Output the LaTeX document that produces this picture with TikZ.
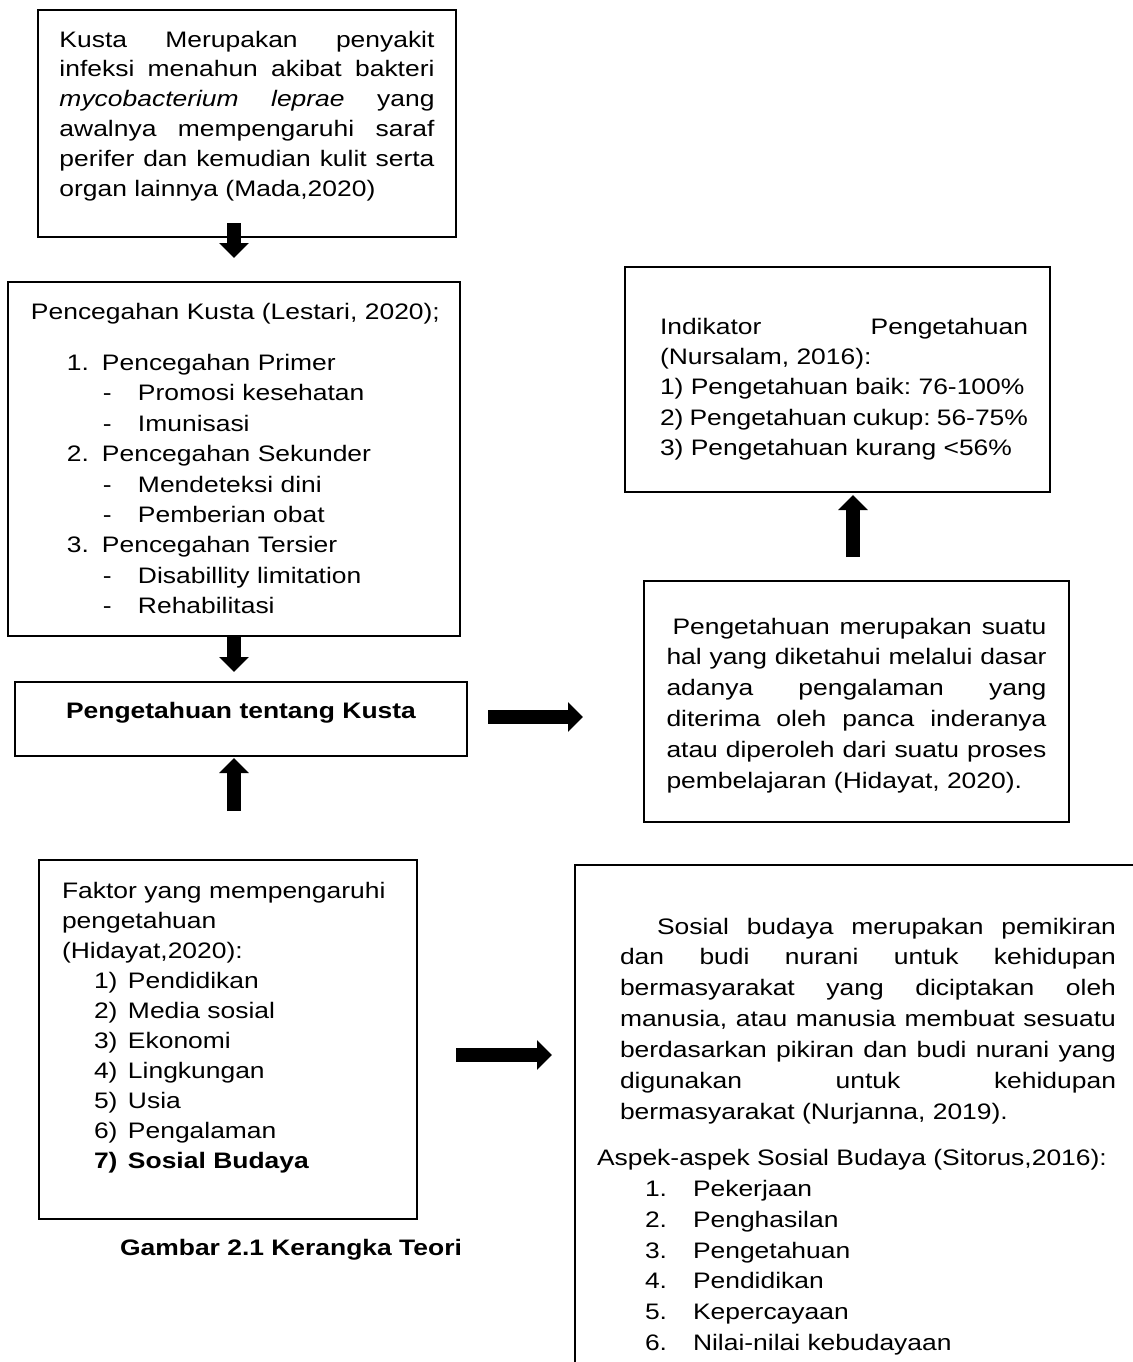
\documentclass[tikz,border=0pt]{standalone}
\usepackage{fontspec}
\setmainfont{Liberation Sans}[FakeStretch=1.18]
\usetikzlibrary{arrows.meta}
\setlength{\parindent}{0pt}
\frenchspacing

% one row of a list: indent, label box, label, text
\newcommand{\listrow}[4]{\hspace*{#1}\makebox[#2][l]{#3}#4}

\begin{document}
\begin{tikzpicture}[x=0.5pt,y=-0.5pt]
  \tikzset{box/.style={draw, line width=1.1pt, outer sep=0pt, inner ysep=0pt,
      anchor=north west, font=\fontsize{11.2pt}{15.2pt}\selectfont},
    fat/.style={line width=7pt, -{Triangle[width=14.5pt,length=7.5pt]}}}
  \useasboundingbox (0,0) rectangle (1133,1362);

  \node[box, align=justify, text width=187.5pt, inner xsep=10.75pt,
    text height=18.5pt, text depth=95pt,
    font=\fontsize{11.2pt}{14.9pt}\selectfont] (kusta) at (38,10)
    {Kusta Merupakan penyakit\linebreak
     infeksi menahun akibat bakteri\linebreak
     \textit{mycobacterium leprae} yang\linebreak
     awalnya mempengaruhi saraf\linebreak
     perifer dan kemudian kulit serta\linebreak
     organ lainnya (Mada,2020)};
  \node[box, align=left, text width=203pt, inner xsep=11.5pt,
    text height=18.5pt, text depth=158.5pt] (cegah) at (8,282)
    {\mbox{Pencegahan Kusta (Lestari, 2020);}\\[10.5pt]
     \listrow{18pt}{17.5pt}{1.}{Pencegahan Primer}\\
     \listrow{36pt}{17.5pt}{-}{Promosi kesehatan}\\
     \listrow{36pt}{17.5pt}{-}{Imunisasi}\\
     \listrow{18pt}{17.5pt}{2.}{Pencegahan Sekunder}\\
     \listrow{36pt}{17.5pt}{-}{Mendeteksi dini}\\
     \listrow{36pt}{17.5pt}{-}{Pemberian obat}\\
     \listrow{18pt}{17.5pt}{3.}{Pencegahan Tersier}\\
     \listrow{36pt}{17.5pt}{-}{Disabillity limitation}\\
     \listrow{36pt}{17.5pt}{-}{Rehabilitasi}};
  \node[box, align=center, text width=226pt, inner xsep=0pt,
    text height=18pt, text depth=19pt,
    font=\bfseries\fontsize{11.2pt}{15.2pt}\selectfont] (info) at (15,682)
    {Pengetahuan tentang Kusta};
  \node[box, align=justify, text width=190.5pt, inner xsep=11pt,
    text height=33.5pt, text depth=79pt] (indik) at (625,267)
    {\leftskip=6.5pt Indikator Pengetahuan\linebreak (Nursalam, 2016):\par
     1) Pengetahuan baik: 76-100\%\par
     2) Pengetahuan cukup: 56-75\%\par
     3) Pengetahuan kurang <56\%\par};
  \node[box, align=justify, text width=190pt, inner xsep=11.25pt,
    text height=26.5pt, text depth=94pt,
    font=\fontsize{11.2pt}{15.4pt}\selectfont] (def) at (644,581)
    {\hspace*{3pt}Pengetahuan merupakan suatu\linebreak
     hal yang diketahui melalui dasar\linebreak
     adanya pengalaman yang\linebreak
     diterima oleh panca inderanya\linebreak
     atau diperoleh dari suatu proses\linebreak
     pembelajaran (Hidayat, 2020).};
  \node[box, align=left, text width=166pt, inner xsep=11.5pt,
    text height=19pt, text depth=160.5pt,
    font=\fontsize{11.2pt}{15.05pt}\selectfont] (faktor) at (39,860)
    {Faktor yang mempengaruhi\\
     pengetahuan\\
     (Hidayat,2020):\\
     \listrow{16pt}{17pt}{1)}{Pendidikan}\\
     \listrow{16pt}{17pt}{2)}{Media sosial}\\
     \listrow{16pt}{17pt}{3)}{Ekonomi}\\
     \listrow{16pt}{17pt}{4)}{Lingkungan}\\
     \listrow{16pt}{17pt}{5)}{Usia}\\
     \listrow{16pt}{17pt}{6)}{Pengalaman}\\
     \textbf{\listrow{16pt}{17pt}{7)}{Sosial Budaya}}};
  \node[box, align=justify, text width=248pt, inner xsep=22.5pt,
    text height=34.5pt, text depth=233pt,
    font=\fontsize{11.2pt}{15.45pt}\selectfont] (sosial) at (575,865)
    {\hspace*{18.5pt}Sosial budaya merupakan pemikiran\linebreak
     dan budi nurani untuk kehidupan\linebreak
     bermasyarakat yang diciptakan oleh\linebreak
     manusia, atau manusia membuat sesuatu\linebreak
     berdasarkan pikiran dan budi nurani yang\linebreak
     digunakan untuk kehidupan\linebreak
     bermasyarakat (Nurjanna, 2019).\par\vspace{7.5pt}
     \hspace*{-11.5pt}Aspek-aspek Sosial Budaya (Sitorus,2016):\par
     \listrow{12.5pt}{24pt}{1.}{Pekerjaan}\par
     \listrow{12.5pt}{24pt}{2.}{Penghasilan}\par
     \listrow{12.5pt}{24pt}{3.}{Pengetahuan}\par
     \listrow{12.5pt}{24pt}{4.}{Pendidikan}\par
     \listrow{12.5pt}{24pt}{5.}{Kepercayaan}\par
     \listrow{12.5pt}{24pt}{6.}{Nilai-nilai kebudayaan}};
  \node[font=\bfseries\fontsize{11.2pt}{15.2pt}\selectfont] (caption) at (291,1250)
    {Gambar 2.1 Kerangka Teori};

  \draw[fat, shorten <=-7pt, shorten >=12pt] (kusta.south -| cegah.north) -- (cegah.north);
  \draw[fat, shorten >=5pt] (cegah.south) -- (cegah.south |- info.north);
  \draw[fat, shorten <=24.5pt, shorten >=1pt] (faktor.north -| cegah.south) -- (info.south -| cegah.south);
  \draw[fat, shorten <=10.5pt, shorten >=30.5pt] ([yshift=1pt]info.east) -- ([yshift=1pt]info.east -| def.west);
  \draw[fat, shorten <=12pt, shorten >=1.5pt] ([xshift=-1.75pt]def.north) -- ([xshift=-1.75pt]def.north |- indik.south);
  \draw[fat, shorten <=19.5pt, shorten >=11.5pt] ([yshift=-7.75pt]faktor.east) -- ([yshift=-7.75pt]faktor.east -| sosial.west);
\end{tikzpicture}
\end{document}
